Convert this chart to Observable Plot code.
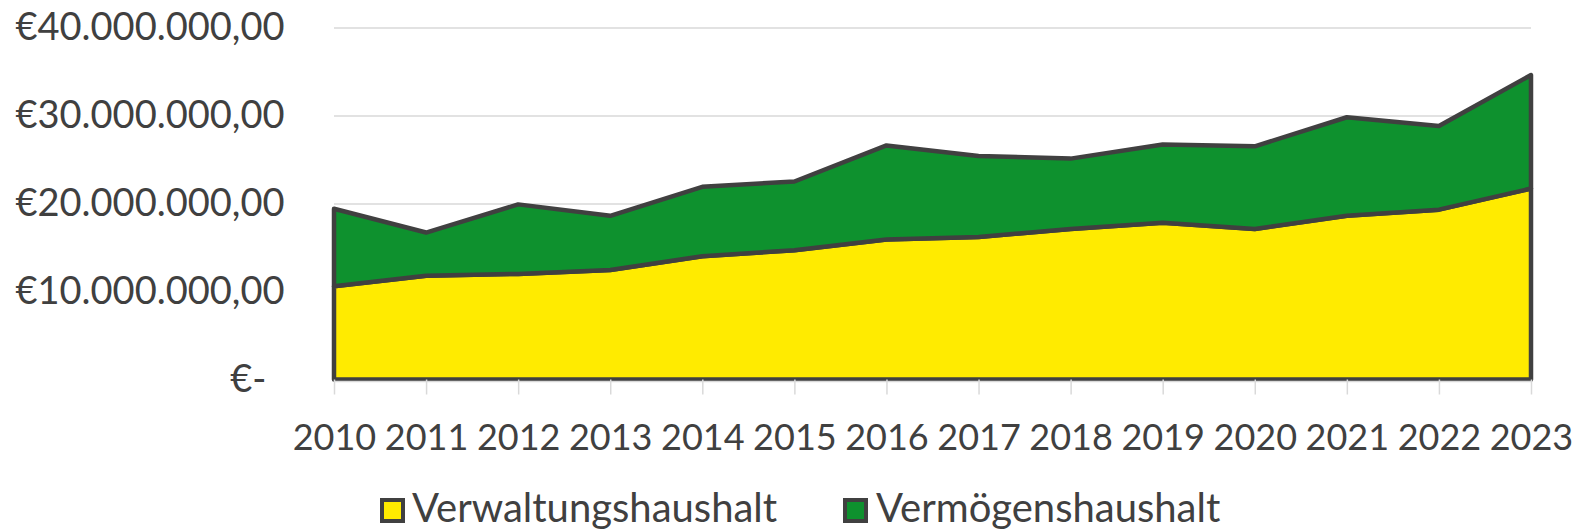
<!DOCTYPE html>
<html>
<head>
<meta charset="utf-8">
<script src="https://cdn.jsdelivr.net/npm/d3@7"></script>
<script src="https://cdn.jsdelivr.net/npm/@observablehq/plot@0.6"></script>
<style>
  html, body { margin: 0; padding: 0; background: #fff; }
  body { position: relative; width: 1577px; height: 531px; overflow: hidden; font-family: Lato, "Open Sans", sans-serif; }
  #chart svg { display: block; }
  .leg-sq { position: absolute; width: 17px; height: 17px; border: 4px solid #404040; }
  .leg-tx { position: absolute; font-size: 40px; line-height: 40px; color: #404040; white-space: nowrap; }
</style>
</head>
<body>
<div id="chart"></div>
<div class="leg-sq" style="left:380px;top:498px;background:#FFEB00"></div>
<div class="leg-tx" style="left:412px;top:487px">Verwaltungshaushalt</div>
<div class="leg-sq" style="left:843px;top:498px;background:#0E912E"></div>
<div class="leg-tx" style="left:876px;top:487px">Vermögenshaushalt</div>
<script>
const years = [2010, 2011, 2012, 2013, 2014, 2015, 2016, 2017, 2018, 2019, 2020, 2021, 2022, 2023];
const verwaltungshaushalt = [10600000, 11800000, 12000000, 12450000, 14000000, 14700000, 15900000, 16200000, 17100000, 17800000, 17100000, 18600000, 19300000, 21700000];
const vermoegenshaushalt = [8800000, 4900000, 7900000, 6150000, 7900000, 7800000, 10700000, 9200000, 8000000, 8900000, 9400000, 11200000, 9500000, 12900000];
const seriesNames = ["Verwaltungshaushalt", "Vermögenshaushalt"];
const seriesColors = ["#FFEB00", "#0E912E"];
const yTicks = [10000000, 20000000, 30000000, 40000000];

const rows = [];
years.forEach((yr, i) => {
  rows.push({year: yr, series: seriesNames[0], value: verwaltungshaushalt[i]});
  rows.push({year: yr, series: seriesNames[1], value: vermoegenshaushalt[i]});
});

const locale = d3.formatLocale({decimal: ",", thousands: ".", grouping: [3], currency: ["€", ""]});
const fmt = locale.format("$,.2f");

const chart = Plot.plot({
  width: 1577,
  height: 470,
  marginTop: 27.5,
  marginBottom: 90.5,
  marginLeft: 334,
  marginRight: 46,
  style: {fontFamily: "Lato, 'Open Sans', sans-serif", fontSize: "36px", color: "#404040", background: "#fff"},
  x: {domain: [2010, 2023], label: null},
  y: {domain: [0, 40000000], label: null},
  color: {domain: seriesNames, range: seriesColors},
  marks: [
    Plot.gridY(yTicks, {stroke: "#d9d9d9", strokeOpacity: 1, strokeWidth: 1.5}),
    Plot.areaY(rows, {x: "year", y: "value", fill: "series", z: "series", order: seriesNames, stroke: "#404040", strokeWidth: 4.5}),
    Plot.ruleY([0], {stroke: "#d9d9d9", strokeWidth: 1.5, dy: 1.5}),
    Plot.axisX(years, {label: null, tickSize: 15, tickPadding: 29, stroke: "#d9d9d9", strokeWidth: 1.5, tickFormat: d => String(d), fill: "#404040", fontSize: 36}),
    Plot.axisY(yTicks, {label: null, tickSize: 0, tickPadding: 50, tickFormat: fmt, fill: "#404040", fontSize: 38}),
    Plot.axisY([0], {label: null, tickSize: 0, tickPadding: 68, tickFormat: () => "€-", fill: "#404040", fontSize: 38})
  ]
});
document.getElementById("chart").appendChild(chart);
</script>
</body>
</html>
